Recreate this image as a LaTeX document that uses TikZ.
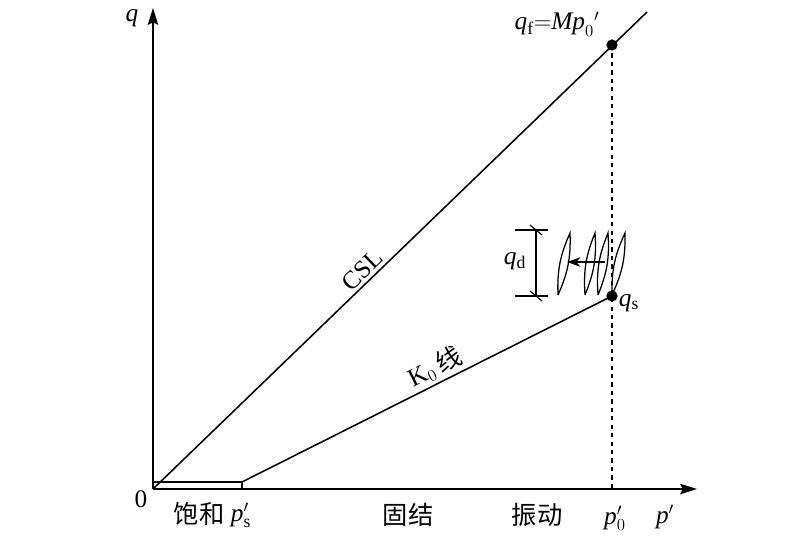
\documentclass[tikz,border=0pt]{standalone}
\usepackage{fontspec}
\setmainfont{Liberation Serif}
\newfontfamily\cjk{Noto Sans CJK SC}
\usetikzlibrary{arrows.meta}

\begin{document}
\begin{tikzpicture}[x=0.025cm, y=-0.025cm, line width=1.1pt,
		every node/.style={inner sep=1pt, align=center, font=\fontsize{18}{21}\selectfont},
		axisarrow/.style={-{Stealth[length=4.2mm, width=2.6mm, inset=0.6mm]}},
		dot/.style={circle, fill, inner sep=0pt, minimum size=8pt},
		loopline/.style={line width=0.9pt},
		thinline/.style={line width=0.8pt}]
				\useasboundingbox (0, 0) rectangle (800, 540);
				\coordinate (O) at (153, 489);
				\coordinate (xend) at (697, 489);
				\coordinate (yend) at (153, 8);
				\coordinate (cslend) at (647, 12);
				\coordinate (sat) at (153, 482);
				\coordinate (ps) at (242, 482);
				\coordinate (psaxis) at (242, 489);
				\coordinate (p0) at (612, 489);
				\node[dot] (qf) at (612, 45) {};
				\node[dot] (qs) at (612, 296) {};
				% axes
				\draw [axisarrow] (O) -- (xend);
				\draw [axisarrow] (O) -- (yend);
				% CSL and K0 line
				\draw (O) -- (cslend) node[pos=0.44, above=1pt, sloped] {CSL};
				\draw (sat) -- (ps) -- (psaxis);
				\draw (ps) -- (qs.center) node[pos=0.54, above=1pt, sloped] {K$_0$\,{\cjk 线}};
				\draw [dashed, thinline] (qf.center) -- (p0);
				% cyclic loading
				\foreach \bx/\tx in {558/570, 585/595, 598/608, 612/625}
					\draw [loopline] (\bx, 295) to[bend left=13] (\tx, 233) to[bend left=13] (\bx, 295);
				\coordinate (arrs) at (605, 262);
				\coordinate (arre) at (567, 262);
				\draw [-{Stealth[length=3.4mm, width=2.4mm]}] (arrs) -- (arre);
				% q_d bracket
				\coordinate (qdtop) at (536, 230);
				\coordinate (qdbot) at (536, 296);
				\coordinate (qdtl) at (515, 230);
				\coordinate (qdtr) at (548, 230);
				\coordinate (qdbl) at (515, 296);
				\coordinate (qdbr) at (548, 296);
				\draw (qdtop) -- (qdbot);
				\draw [thinline] (qdtl) -- (qdtr);
				\draw [thinline] (qdbl) -- (qdbr);
				\draw [thinline] ([shift={(-6,-5)}]qdtop) -- ([shift={(6,5)}]qdtop);
				\draw [thinline] ([shift={(-6,-5)}]qdbot) -- ([shift={(6,5)}]qdbot);
				% labels
				\node (qlab) at (132, 18) {$\mathit{q}$};
				\node (zero) at (141, 499) {0};
				\node (satlab) at (199, 514) {\cjk 饱和};
				\node (pslab) at (241, 515) {$\mathit{p}'_{\mathrm{s}}$};
				\node (conlab) at (408, 515) {\cjk 固结};
				\node (viblab) at (537, 515) {\cjk 振动};
				\node (p0lab) at (615, 518) {$\mathit{p}'_0$};
				\node (plab) at (665, 517) {$\mathit{p}'$};
				\node (qflab) at (557, 24) {$\mathit{q}_{\mathrm{f}}{=}\mathit{Mp}_0{}'$};
				\node (qslab) at (629, 303) {$\mathit{q}_{\mathrm{s}}$};
				\node (qdlab) at (515, 261) {$\mathit{q}_{\mathrm{d}}$};
\end{tikzpicture}
\end{document}
